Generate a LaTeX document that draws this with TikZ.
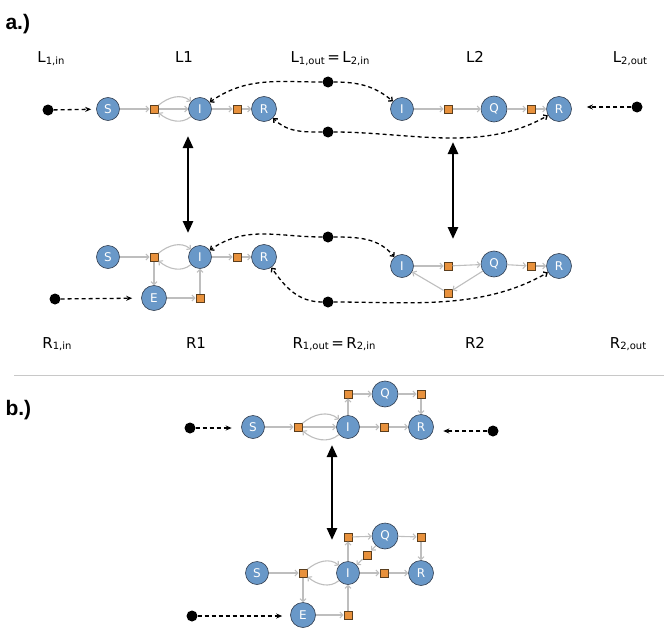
\documentclass[tikz,border=0pt]{standalone}
\usepackage{fontspec}
\setmainfont{DejaVu Sans}
\newfontfamily\boldlbl{Liberation Sans}
\usetikzlibrary{arrows.meta}
\definecolor{nblue}{RGB}{105,152,200}
\definecolor{nedge}{RGB}{50,62,80}
\definecolor{sqfill}{RGB}{232,145,60}
\definecolor{sqedge}{RGB}{90,62,30}
\definecolor{garrow}{RGB}{190,190,190}
\definecolor{sepgray}{RGB}{200,200,200}
\newcommand{\sublbl}[2]{#1\raisebox{-1.5pt}{\fontsize{10}{10}\selectfont #2}}
\tikzset{
  st/.style={circle,draw=nedge,line width=0.6pt,fill=nblue,text=white,inner sep=0pt,minimum size=23pt,font=\fontsize{12}{12}\selectfont},
  stbig/.style={st,minimum size=26pt},
  stmid/.style={st,minimum size=25pt},
  sq/.style={rectangle,draw=sqedge,line width=0.5pt,fill=sqfill,inner sep=0pt,minimum size=8.5pt},
  ga/.style={draw=garrow,line width=1.1pt,-{Straight Barb[length=2.8pt,width=6pt]}},
  dsh/.style={draw=black,line width=1.3pt,dash pattern=on 4pt off 3pt,-{Stealth[length=6pt,width=5pt]}},
  dsharc/.style={draw=black,line width=1.3pt,dash pattern=on 4pt off 3pt,-{Straight Barb[length=3pt,width=5.5pt]}},
  bdot/.style={circle,fill=black,inner sep=0pt,minimum size=11pt},
  bigarr/.style={line width=2.6pt,{Triangle[length=12pt,width=10pt]}-{Triangle[length=12pt,width=10pt]}},
  lbl/.style={anchor=base,font=\fontsize{15}{15}\selectfont},
  part/.style={anchor=base west,font=\boldlbl\bfseries\fontsize{21}{21}\selectfont}
}
\begin{document}
\begin{tikzpicture}[x=1pt,y=-1pt]
\useasboundingbox (0,0) rectangle (664,642);
% part labels
\node[part] (pa) at (2,30) {a.)};
\node[part] (pb) at (2,415) {b.)};
% separator
\draw[draw=sepgray,line width=1pt] (14,375) coordinate (sepl) -- (664,375) coordinate (sepr);
% top labels
\node[lbl] (tl1) at (51,63) {\sublbl{L}{1,in}};
\node[lbl] (tl2) at (184,63) {L1};
\node[lbl] (tl3) at (330,63) {\sublbl{L}{1,out}\,=\,\sublbl{L}{2,in}};
\node[lbl] (tl4) at (475,63) {L2};
\node[lbl] (tl5) at (630,63) {\sublbl{L}{2,out}};
% bottom labels
\node[lbl] (bl1) at (57,348) {\sublbl{R}{1,in}};
\node[lbl] (bl2) at (196,348) {R1};
\node[lbl] (bl3) at (334,348) {\sublbl{R}{1,out}\,=\,\sublbl{R}{2,in}};
\node[lbl] (bl4) at (475,348) {R2};
\node[lbl] (bl5) at (628,348) {\sublbl{R}{2,out}};

% ===== L1 =====
\node[st] (aS) at (108,109) {S};
\node[sq] (aq1) at (154,109) {};
\node[st] (aI) at (200,109) {I};
\node[sq] (aq2) at (237,109) {};
\node[stmid] (aR) at (264,109) {R};
\draw[ga] (aS) -- (aq1);
\draw[ga] (aq1) -- (aI);
\draw[ga] (aq1) to[out=40,in=140] (aI);
\draw[ga] (aI) to[out=220,in=-40] (aq1);
\draw[ga] (aI) -- (aq2);
\draw[ga] (aq2) -- (aR);
% ===== L2 =====
\node[st] (bI) at (402,109) {I};
\node[sq] (bq1) at (448,109) {};
\node[stbig] (bQ) at (494,109) {Q};
\node[sq] (bq2) at (531,109) {};
\node[stmid] (bR) at (559,109) {R};
\draw[ga] (bI) -- (bq1);
\draw[ga] (bq1) -- (bQ);
\draw[ga] (bQ) -- (bq2);
\draw[ga] (bq2) -- (bR);
% L dots
\node[bdot] (d1) at (48,110) {};
\node[bdot] (d2) at (328,82) {};
\node[bdot] (d3) at (328,132) {};
\node[bdot] (d4) at (637,107) {};
\draw[dsh,shorten >=5pt] (d1) -- (aS);
\draw[dsh,shorten >=15pt] (d4) -- (bR.east |- d4);
\draw[dsharc] (d2) to[out=180,in=35] (aI);
\draw[dsharc] (d2) to[out=0,in=140] (bI);
\draw[dsharc] (d3) to[out=180,in=-45] (aR);
\draw[dsharc] (d3) to[out=0,in=-150,looseness=0.9] (bR);

% ===== R1 =====
\node[st] (cS) at (108,257) {S};
\node[sq] (cq1) at (154,257) {};
\node[st] (cI) at (200,257) {I};
\node[sq] (cq2) at (237,257) {};
\node[stmid] (cR) at (264,257) {R};
\node[stmid] (cE) at (154,298) {E};
\node[sq] (cq3) at (200,298) {};
\draw[ga] (cS) -- (cq1);
\draw[ga] (cq1) to[out=40,in=140] (cI);
\draw[ga] (cI) to[out=220,in=-40] (cq1);
\draw[ga] (cq1) -- (cE);
\draw[ga] (cE) -- (cq3);
\draw[ga] (cq3) -- (cI);
\draw[ga] (cI) -- (cq2);
\draw[ga] (cq2) -- (cR);
% ===== R2 =====
\node[st] (eI) at (402,266) {I};
\node[sq] (eq1) at (448,266) {};
\node[stbig] (eQ) at (494,264) {Q};
\node[sq] (eq2) at (531,266) {};
\node[stmid] (eR) at (559,266) {R};
\node[sq] (eq3) at (448,293) {};
\draw[ga] (eI) -- (eq1);
\draw[ga] (eq1) -- (eQ);
\draw[ga] (eQ) -- (eq2);
\draw[ga] (eq2) -- (eR);
\draw[ga] (eQ) -- (eq3);
\draw[ga] (eq3) -- (eI);
% R dots
\node[bdot] (d5) at (55,299) {};
\node[bdot] (d6) at (328,237) {};
\node[bdot] (d7) at (328,302) {};
\draw[dsh,shorten >=9pt] (d5) -- (cE);
\draw[dsharc] (d6) to[out=180,in=35] (cI);
\draw[dsharc] (d6) to[out=0,in=130] (eI);
\draw[dsharc] (d7) to[out=180,in=-55] (cR);
\draw[dsharc] (d7) to[out=0,in=-150,looseness=0.9] (eR);

% big arrows a
\coordinate (v1a) at (188,136);
\coordinate (v1b) at (188,233);
\coordinate (v2a) at (453,142);
\coordinate (v2b) at (453,239);
\draw[bigarr] (v1a) -- (v1b);
\draw[bigarr] (v2a) -- (v2b);

% ===== b top =====
\node[st] (fS) at (253,427) {S};
\node[sq] (fq1) at (298,427) {};
\node[st] (fI) at (348,427) {I};
\node[sq] (fq2) at (384,427) {};
\node[stmid] (fR) at (421,427) {R};
\node[sq] (fq3) at (348,394) {};
\node[stbig] (fQ) at (385,394) {Q};
\node[sq] (fq4) at (421,394) {};
\draw[ga] (fS) -- (fq1);
\draw[ga] (fq1) -- (fI);
\draw[ga] (fq1) to[out=40,in=140] (fI);
\draw[ga] (fI) to[out=220,in=-40] (fq1);
\draw[ga] (fI) -- (fq2);
\draw[ga] (fq2) -- (fR);
\draw[ga] (fI) -- (fq3);
\draw[ga] (fq3) -- (fQ);
\draw[ga] (fQ) -- (fq4);
\draw[ga] (fq4) -- (fR);
\node[bdot] (d8) at (190,428) {};
\node[bdot] (d9) at (493,431) {};
\draw[dsh,shorten >=9.5pt] (d8) -- (fS.west |- d8);
\draw[dsh,shorten >=9.5pt] (d9) -- (fR.east |- d9);

% big arrow b
\coordinate (v3a) at (332,445);
\coordinate (v3b) at (332,540);
\draw[bigarr] (v3a) -- (v3b);

% ===== b bottom =====
\node[st] (gS) at (257,573) {S};
\node[sq] (gq1) at (303,573) {};
\node[st] (gI) at (348,573) {I};
\node[sq] (gq2) at (384,573) {};
\node[stmid] (gR) at (421,573) {R};
\node[sq] (gq3) at (348,537) {};
\node[stbig] (gQ) at (385,536) {Q};
\node[sq] (gq4) at (421,537) {};
\node[sq] (gq5) at (367,555) {};
\node[stmid] (gE) at (303,615) {E};
\node[sq] (gq6) at (348,615) {};
\draw[ga] (gS) -- (gq1);
\draw[ga] (gq1) to[out=40,in=140] (gI);
\draw[ga] (gI) to[out=220,in=-40] (gq1);
\draw[ga] (gq1) -- (gE);
\draw[ga] (gE) -- (gq6);
\draw[ga] (gq6) -- (gI);
\draw[ga] (gI) -- (gq2);
\draw[ga] (gq2) -- (gR);
\draw[ga] (gI) -- (gq3);
\draw[ga] (gq3) -- (gQ);
\draw[ga] (gQ) -- (gq4);
\draw[ga] (gq4) -- (gR);
\draw[ga] (gQ) -- (gq5);
\draw[ga] (gq5) -- (gI);
\node[bdot] (d10) at (192,616) {};
\draw[dsh,shorten >=8pt] (d10) -- (gE.west |- d10);
\end{tikzpicture}
\end{document}
